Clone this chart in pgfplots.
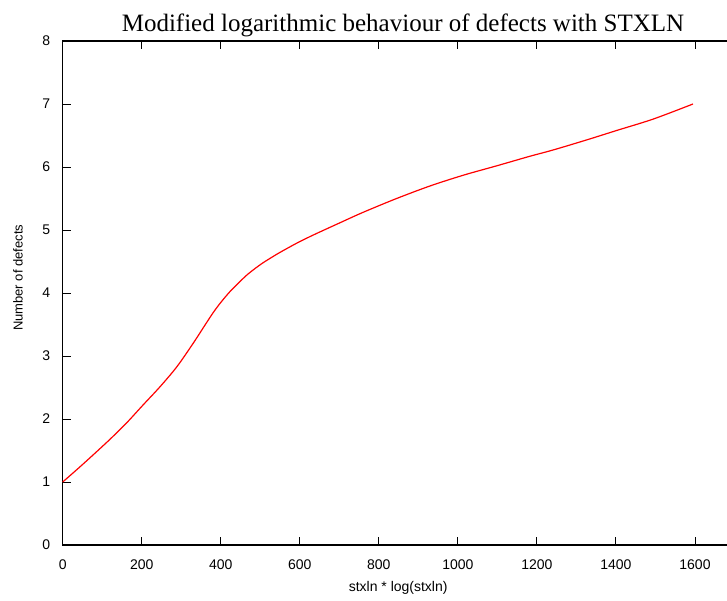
\documentclass[border=0pt]{standalone}
\usepackage{fontspec}
\setmainfont{Liberation Sans}
\newfontfamily\titlefont{Liberation Serif}
\usepackage{pgfplots}
\pgfplotsset{compat=1.18}
\begin{document}
\begin{tikzpicture}
\begin{axis}[
  scale only axis,
  width=711.3pt, height=504pt,
  xmin=0, xmax=1800, ymin=0, ymax=8,
  xtick={0,200,...,1600}, ytick={0,1,...,8},
  axis line style={black, line width=1.3pt},
  tick style={black, line width=0.9pt},
  major tick length=8pt,
  tick align=inside,
  xtick pos=both, ytick pos=left,
  /pgf/number format/assume math mode=true,
  /pgf/number format/1000 sep={},
  tick label style={font=\fontsize{14}{16}\selectfont},
  xticklabel style={yshift=-11pt},
  yticklabel style={xshift=-9pt},
  title={Modified logarithmic behaviour of defects with STXLN},
  title style={font=\titlefont\fontsize{25}{28}\selectfont, at={(rel axis cs:0.4784,1)}, anchor=base, yshift=3pt, inner sep=0pt},
  xlabel={stxln * log(stxln)},
  xlabel style={font=\fontsize{14}{16}\selectfont, at={(rel axis cs:0.4716,0)}, anchor=base, yshift=-47pt, inner sep=0pt},
  ylabel={Number of defects},
  ylabel style={font=\fontsize{13}{15}\selectfont, at={(rel axis cs:0,0.53)}, anchor=center, yshift=44.7pt, inner sep=0pt},
  clip=false,
]
\addplot[red, line width=1.2pt, smooth, tension=0.5] coordinates {
(0,1.00) (40,1.22) (77,1.43) (120,1.68) (162,1.94) (203,2.22) (246,2.51) (289,2.83)
(330,3.20) (360,3.49) (381,3.69) (400,3.85) (423,4.02) (445,4.16) (466,4.285) (486,4.385) (507,4.48)
(530,4.57) (550,4.645) (592,4.79) (634,4.92) (700,5.11) (760,5.28) (845,5.50) (930,5.70) (1014,5.87)
(1099,6.02) (1182,6.17) (1241,6.27) (1326,6.43) (1402,6.58) (1494,6.76) (1595,7.00)
};
\coordinate (bl) at (rel axis cs:0,0);
\end{axis}
\pgfresetboundingbox
\path[use as bounding box] ([shift={(-62.7pt,-56pt)}]bl) rectangle ++(727pt,601pt);
\end{tikzpicture}
\end{document}
